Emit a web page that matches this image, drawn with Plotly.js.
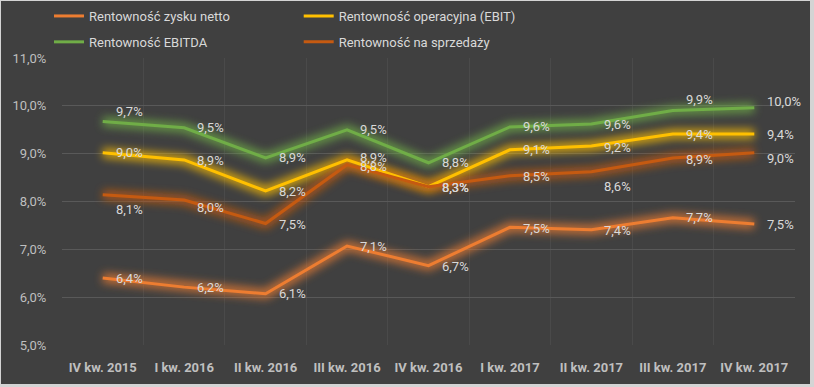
<!DOCTYPE html>
<html>
<head>
<meta charset="utf-8">
<script src="https://cdn.plot.ly/plotly-3.0.1.min.js"></script>
<style>
html,body{margin:0;padding:0;background:#d4d4d4;width:814px;height:387px;overflow:hidden;}
#chart{position:absolute;left:1px;top:1px;width:809px;height:383px;}
</style>
</head>
<body>
<div id="chart"></div>
<script>
// ---- data ----
const categories = ["IV kw. 2015","I kw. 2016","II kw. 2016","III kw. 2016","IV kw. 2016","I kw. 2017","II kw. 2017","III kw. 2017","IV kw. 2017"];
const netProfitMargin = [6.40, 6.21, 6.07, 7.07, 6.66, 7.46, 7.41, 7.66, 7.53];
const ebitMargin      = [9.02, 8.87, 8.22, 8.87, 8.31, 9.08, 9.16, 9.41, 9.41];
const ebitdaMargin    = [9.67, 9.54, 8.91, 9.50, 8.81, 9.56, 9.62, 9.90, 9.96];
const salesMargin     = [8.14, 8.03, 7.54, 8.77, 8.31, 8.54, 8.62, 8.91, 9.02];
const seriesNames = ["Rentowność zysku netto","Rentowność operacyjna (EBIT)","Rentowność EBITDA","Rentowność na sprzedaży"];
const yTicks = [5,6,7,8,9,10,11];

// ---- styling ----
const colors = ["#ED7D31","#FFC000","#70AD47","#C55A11"];
const labelDy = [
  [0,0,0,1,1,1,1,0,1],
  [0,1,1,-2,1,0,1,0,0],
  [-10,0,0,0,0,0,0,-11,-6],
  [15,7,1,2,1,1,15,2,6]
];
const legendOf = ["legend","legend2","legend","legend2"];
const allSeries = [netProfitMargin, ebitMargin, ebitdaMargin, salesMargin];
const fmt = v => v.toFixed(1).replace('.', ',') + '%';
const FONT = "Roboto, 'Open Sans', sans-serif";

const traces = [];
allSeries.forEach((s,i)=>{
  traces.push({x:categories,y:s,type:'scatter',mode:'lines',line:{color:colors[i],width:10},opacity:0.75,showlegend:false,hoverinfo:'skip'});
});
allSeries.forEach((s,i)=>{
  traces.push({x:categories,y:s,type:'scatter',mode:'lines',name:seriesNames[i],
    line:{color:colors[i],width:3},legend:legendOf[i],legendgroup:'g'+i});
});

const annotations = [];
allSeries.forEach((s,i)=>{
  s.forEach((v,j)=>{
    annotations.push({x:categories[j],y:v,xref:'x',yref:'y',text:fmt(v),showarrow:false,
      xanchor:'left',yanchor:'middle',xshift:11,yshift:-labelDy[i][j],
      font:{family:FONT,size:13,color:'#d9d9d9'}});
  });
});

const legendCommon = {xanchor:'left',yanchor:'top',orientation:'v',bgcolor:'rgba(0,0,0,0)',
  font:{family:FONT,size:13,color:'#d9d9d9'},tracegroupgap:6,traceorder:'grouped',
  xref:'container',yref:'container'};

const layout = {
  width:809,height:383,
  paper_bgcolor:'#404040',plot_bgcolor:'#404040',
  margin:{l:61,r:15,t:57,b:39,autoexpand:false},
  separators:', ',
  showlegend:true,
  legend:Object.assign({x:0.0593,y:1.0},legendCommon),
  legend2:Object.assign({x:0.368,y:1.0},legendCommon),
  xaxis:{type:'category',range:[-0.5,8.5],tickson:'boundaries',showgrid:true,gridcolor:'#4a4a4a',gridwidth:1,
    showline:false,zeroline:false,ticks:'',ticklabelstandoff:13,
    tickfont:{family:FONT,size:13,color:'#bfbfbf',weight:'bold'},fixedrange:true},
  yaxis:{range:[5,11],tickvals:yTicks,ticktext:yTicks.map(v=>v.toFixed(1).replace('.',',')+'%'),
    showgrid:true,gridcolor:'#595959',gridwidth:1,zeroline:false,showline:false,
    ticks:'outside',ticklen:12,tickcolor:'rgba(0,0,0,0)',
    tickfont:{family:FONT,size:13,color:'#bfbfbf'},fixedrange:true},
  annotations:annotations
};
Plotly.newPlot('chart',traces,layout,{displayModeBar:false,staticPlot:true}).then(gd=>{
  const svg = gd.querySelector('.main-svg');
  const NS = 'http://www.w3.org/2000/svg';
  let defs = svg.querySelector('defs');
  if(!defs){defs=document.createElementNS(NS,'defs');svg.insertBefore(defs,svg.firstChild);}
  const f = document.createElementNS(NS,'filter');
  f.setAttribute('id','glowBlur');
  f.setAttribute('filterUnits','userSpaceOnUse');
  f.setAttribute('x','0');f.setAttribute('y','0');f.setAttribute('width','809');f.setAttribute('height','383');
  const b = document.createElementNS(NS,'feGaussianBlur');
  b.setAttribute('stdDeviation','4');
  f.appendChild(b);defs.appendChild(f);
  const tr = gd.querySelectorAll('.scatterlayer .trace');
  for(let k=0;k<allSeries.length;k++){ tr[k].setAttribute('filter','url(#glowBlur)'); }
});
</script>
</body>
</html>
